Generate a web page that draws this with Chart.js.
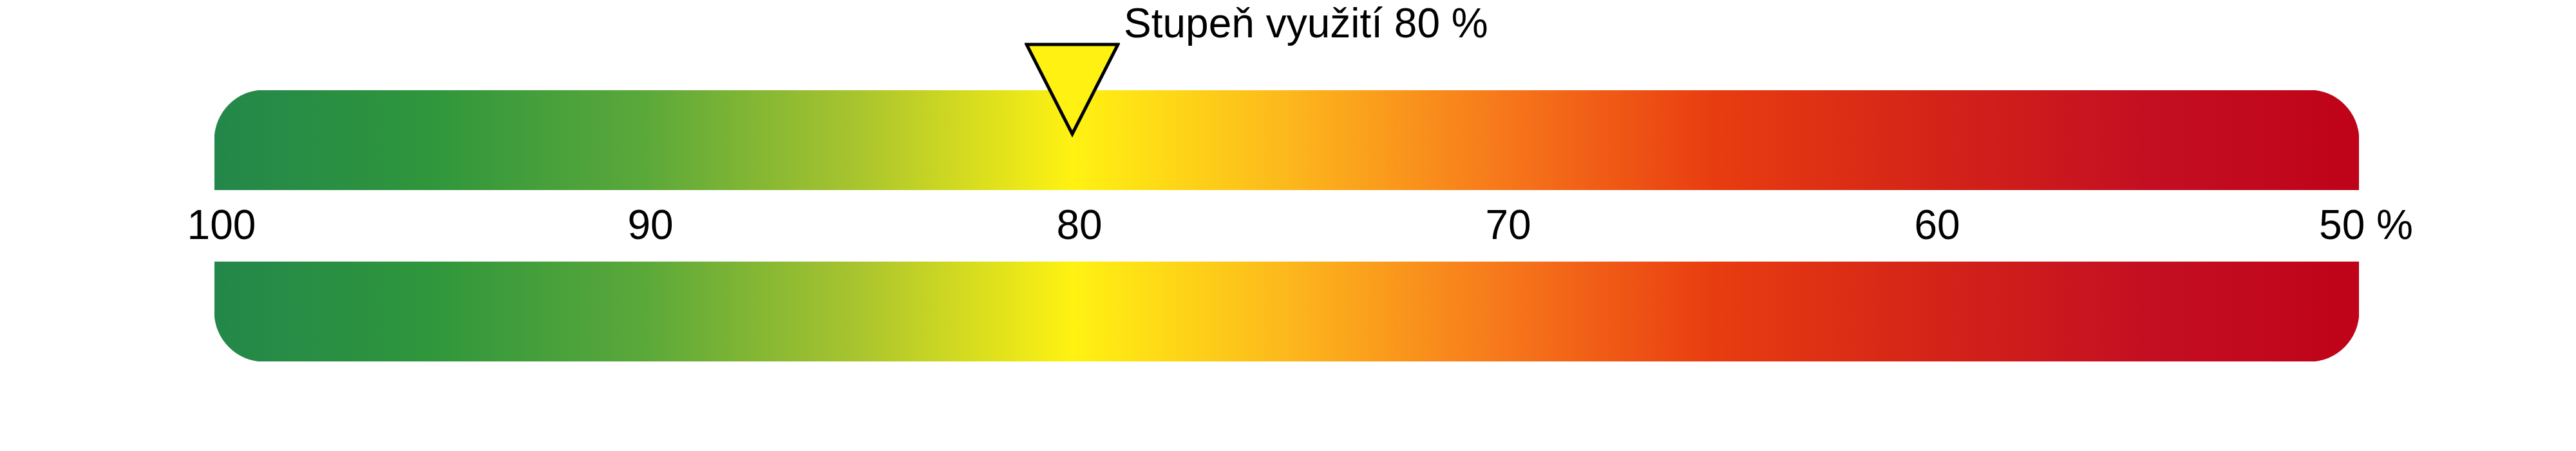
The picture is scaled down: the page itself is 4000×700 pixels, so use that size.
<!DOCTYPE html>
<html>
<head>
<meta charset="utf-8">
<script src="https://cdn.jsdelivr.net/npm/chart.js@4.4.1/dist/chart.umd.min.js"></script>
<style>
  body { margin: 0; background: #fff; }
  #wrap { width: 4000px; height: 700px; }
</style>
</head>
<body>
<div id="wrap"><canvas id="gauge"></canvas></div>
<script>
// hodnoty stupnice (osa jde od 100 doleva k 50 doprava)
const tickValues = [100, 90, 80, 70, 60, 50];
const bandRange = [50, 100];
const bandRows = [1, -1];          // horní a dolní pás
const markerValue = [80];

// barevný přechod pásu podle hodnoty
const gradientValues = [100, 95, 90, 85, 80, 75, 70, 65, 60, 55, 50];
const gradientColors = [
  '#23874a', '#2f963c', '#5aa83a', '#a9c42e', '#fff212',
  '#fcb81c', '#f7781b', '#e83c10', '#d42418', '#c40f22', '#bf0318'
];

const fontFamily = '"Liberation Sans", Arial, sans-serif';

// ukazatel - trojúhelník špičkou dolů
function makeTriangle() {
  const c = document.createElement('canvas');
  c.width = 148;
  c.height = 148;
  const g = c.getContext('2d');
  g.beginPath();
  g.moveTo(3, 3);
  g.lineTo(145, 3);
  g.lineTo(74, 142);
  g.closePath();
  g.fillStyle = '#fff212';
  g.fill();
  g.lineWidth = 5;
  g.lineJoin = 'miter';
  g.strokeStyle = '#000';
  g.stroke();
  return c;
}

let gradientCache = null;
function bandGradient(context) {
  const chart = context.chart;
  const x = chart.scales.x;
  if (!chart.chartArea || !x) return gradientColors[0];
  if (gradientCache) return gradientCache;
  const x0 = x.getPixelForValue(gradientValues[0]);
  const x1 = x.getPixelForValue(gradientValues[gradientValues.length - 1]);
  const grad = chart.ctx.createLinearGradient(x0, 0, x1, 0);
  gradientValues.forEach((v, i) => {
    grad.addColorStop((x.getPixelForValue(v) - x0) / (x1 - x0), gradientColors[i]);
  });
  gradientCache = grad;
  return grad;
}

// popisek u ukazatele
const markerLabel = {
  id: 'markerLabel',
  afterDatasetsDraw(chart) {
    const pt = chart.getDatasetMeta(0).data[0];
    const ctx = chart.ctx;
    ctx.save();
    ctx.font = '64px ' + fontFamily;
    ctx.fillStyle = '#000';
    ctx.textBaseline = 'alphabetic';
    ctx.fillText('Stupeň využití ' + markerValue[0] + ' %', pt.x + 80, pt.y - 82);
    ctx.restore();
  }
};

const data = {
  datasets: [
    {
      type: 'scatter',
      data: markerValue.map(v => ({ x: v, y: 1.58 })),
      pointStyle: makeTriangle(),
      pointRadius: 74,
      clip: false
    },
    {
      type: 'bar',
      data: bandRows.map(r => ({ x: bandRange, y: r })),
      backgroundColor: bandGradient,
      barThickness: 155,
      borderSkipped: false,
      borderRadius: ctx => ctx.dataIndex === 0
        ? { topLeft: 90, topRight: 90, bottomLeft: 0, bottomRight: 0 }
        : { topLeft: 0, topRight: 0, bottomLeft: 90, bottomRight: 90 }
    }
  ]
};

const config = {
  type: 'bar',
  data: data,
  options: {
    indexAxis: 'y',
    responsive: true,
    maintainAspectRatio: false,
    animation: false,
    layout: {
      padding: { left: 333, right: 337, top: 140, bottom: 139 }
    },
    scales: {
      x: {
        type: 'linear',
        min: 50,
        max: 100,
        reverse: true,
        beginAtZero: false,
        position: { y: 0 },
        grid: { display: false },
        border: { display: false },
        afterBuildTicks: scale => {
          scale.ticks = tickValues.map(v => ({ value: v }));
        },
        ticks: {
          autoSkip: false,
          maxRotation: 0,
          padding: -44,
          labelOffset: 11,
          color: '#000',
          font: { family: fontFamily, size: 64 },
          callback: v => v === 50 ? v + ' %' : String(v)
        }
      },
      y: {
        type: 'linear',
        min: -1.58,
        max: 1.58,
        offset: false,
        display: false
      }
    },
    plugins: {
      legend: { display: false },
      tooltip: { enabled: false }
    }
  },
  plugins: [markerLabel]
};

const gaugeChart = new Chart(document.getElementById('gauge'), config);
</script>
</body>
</html>
